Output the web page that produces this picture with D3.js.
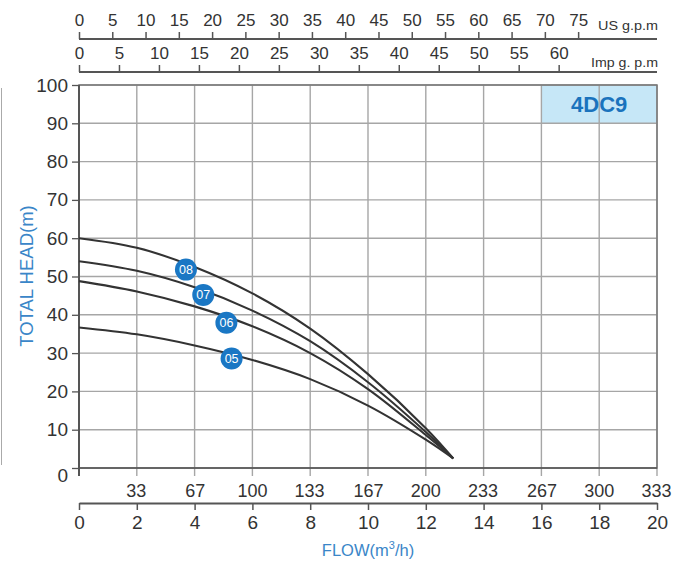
<!DOCTYPE html>
<html><head><meta charset="utf-8">
<script src="https://cdn.jsdelivr.net/npm/d3@7"></script>
<style>html,body{margin:0;padding:0;background:#fff}svg{display:block;font-family:"Liberation Sans",Arial,sans-serif}</style>
</head><body><svg id="c" width="674" height="564"></svg>
<script>
const headTicks = [0,10,20,30,40,50,60,70,80,90,100];
const flowTicks = [0,2,4,6,8,10,12,14,16,18,20];
const lpmTicks = [33,67,100,133,167,200,233,267,300,333];
const usTicks = [0,5,10,15,20,25,30,35,40,45,50,55,60,65,70,75];
const impTicks = [0,5,10,15,20,25,30,35,40,45,50,55,60];
const flows = [0,2,4,6,8,10,12,12.95];
const series = [
  {name:"08", head:[60,57.5,52.5,45.6,36.4,24.5,10.4,2.5], label:[3.7,51.8]},
  {name:"07", head:[54,51.5,47.2,41.1,33.1,22.4,9.4,2.5], label:[4.3,45.2]},
  {name:"06", head:[48.8,46.1,42.2,37.0,30.0,20.6,8.6,2.5], label:[5.1,37.9]},
  {name:"05", head:[36.7,34.9,32.0,28.2,23.2,16.3,7.4,2.5], label:[5.28,28.6]}
];
const model = "4DC9";

const svg = d3.select("#c");
const L=79,R=657,T=85,B=468;
const x = d3.scaleLinear([0,20],[L,R]);
const y = d3.scaleLinear([0,100],[B,T]);
const xl = d3.scaleLinear([0,333.333],[L,R]);
const xus = d3.scaleLinear([0,86.85],[L,R]);
const ximp = d3.scaleLinear([0,72.3],[L,R]);
const FF = "Liberation Sans, Arial, sans-serif";

// stray left line
svg.append("line").attr("x1",1.5).attr("x2",1.5).attr("y1",88).attr("y2",465).attr("stroke","#aaa").attr("stroke-width",1);

// model box
svg.append("rect").attr("x",x(16)).attr("y",y(100)).attr("width",x(20)-x(16)).attr("height",y(90)-y(100)).attr("fill","#c6e7f7");

// grid
const g = svg.append("g");
g.selectAll(".vg").data(flowTicks.slice(1)).join("line")
  .attr("x1",d=>x(d)).attr("x2",d=>x(d)).attr("y1",T).attr("y2",B+8)
  .attr("stroke","#a6a6a6").attr("stroke-width",1.4);
g.selectAll(".hg").data(headTicks.slice(1)).join("line")
  .attr("x1",L).attr("x2",R).attr("y1",d=>y(d)).attr("y2",d=>y(d))
  .attr("stroke","#a6a6a6").attr("stroke-width",1.4);
// frame
svg.append("rect").attr("x",L).attr("y",T).attr("width",R-L).attr("height",B-T).attr("fill","none").attr("stroke","#777").attr("stroke-width",1.5);
svg.append("line").attr("x1",L).attr("x2",L).attr("y1",T).attr("y2",B+8).attr("stroke","#555").attr("stroke-width",2);
svg.append("line").attr("x1",L).attr("x2",R).attr("y1",B).attr("y2",B).attr("stroke","#555").attr("stroke-width",1.6);

// y axis
const ya = svg.append("g").attr("transform",`translate(${L},0)`)
  .call(d3.axisLeft(y).tickValues(headTicks).tickSize(7).tickPadding(4));
ya.select(".domain").remove();
ya.selectAll("line").attr("stroke","#555").attr("stroke-width",1.3);
ya.selectAll("text").attr("font-size",19).attr("fill","#333").attr("font-family",FF);
ya.selectAll(".tick").filter(d=>d===0).select("text").attr("dy","0.7em");

// L/min labels
svg.selectAll(".lpm").data(lpmTicks).join("text")
  .attr("x",d=>xl(d)).attr("y",497).attr("text-anchor","middle")
  .attr("font-size",18).attr("fill","#333").text(d=>d);

// flow axis
const fa = svg.append("g").attr("transform","translate(0,503)")
  .call(d3.axisBottom(x).tickValues(flowTicks).tickSize(7).tickPadding(6).tickSizeOuter(0));
fa.select(".domain").attr("stroke","#555").attr("stroke-width",2);
fa.selectAll("line").attr("stroke","#555").attr("stroke-width",1.5);
fa.selectAll("text").attr("font-size",19).attr("fill","#333").attr("font-family",FF);

svg.append("text").attr("x",368).attr("y",556).attr("text-anchor","middle").attr("font-size",16.5).attr("fill","#3a86c8")
  .html('FLOW(m<tspan dy="-7" font-size="11">3</tspan><tspan dy="7">/h)</tspan>');
svg.append("text").attr("transform","translate(33,276) rotate(-90)").attr("text-anchor","middle")
  .attr("font-size",18.5).attr("fill","#3a86c8").text("TOTAL HEAD(m)");

// top US axis
const ua = svg.append("g").attr("transform","translate(0,39)")
  .call(d3.axisTop(xus).tickValues(usTicks).tickSize(7).tickPadding(6).tickSizeOuter(0));
ua.select(".domain").attr("d",`M${L},0H${R}`).attr("stroke","#555").attr("stroke-width",2);
ua.selectAll("line").attr("stroke","#555").attr("stroke-width",1.5);
ua.selectAll("text").attr("font-size",17).attr("fill","#333").attr("font-family",FF);
svg.append("text").attr("x",658).attr("y",30).attr("text-anchor","end").attr("font-size",13.5).attr("fill","#333").attr("textLength",60).attr("lengthAdjust","spacingAndGlyphs").text("US g.p.m");

// top Imp axis
const ia = svg.append("g").attr("transform","translate(0,72)")
  .call(d3.axisTop(ximp).tickValues(impTicks).tickSize(7).tickPadding(6).tickSizeOuter(0));
ia.select(".domain").attr("d",`M${L},0H${R}`).attr("stroke","#555").attr("stroke-width",2);
ia.selectAll("line").attr("stroke","#555").attr("stroke-width",1.5);
ia.selectAll("text").attr("font-size",17).attr("fill","#333").attr("font-family",FF);
svg.append("text").attr("x",658).attr("y",67).attr("text-anchor","end").attr("font-size",13.5).attr("fill","#333").attr("textLength",67).attr("lengthAdjust","spacingAndGlyphs").text("Imp g. p.m");

// model text
svg.append("text").attr("x",(x(16)+x(20))/2).attr("y",(y(100)+y(90))/2+8).attr("text-anchor","middle")
  .attr("font-size",22).attr("font-weight","bold").attr("fill","#1a73bd").text(model);

// curves
const line = d3.line().x(d=>x(d[0])).y(d=>y(d[1])).curve(d3.curveCatmullRom.alpha(0.5));
svg.selectAll(".curve").data(series).join("path")
  .attr("d",s=>line(flows.map((f,i)=>[f,s.head[i]])))
  .attr("fill","none").attr("stroke","#333").attr("stroke-width",2.1);

// labels
const lab = svg.selectAll(".lab").data(series).join("g")
  .attr("transform",s=>`translate(${x(s.label[0])},${y(s.label[1])})`);
lab.append("circle").attr("r",11).attr("fill","#1a77c4");
lab.append("text").attr("text-anchor","middle").attr("dy","0.36em").attr("font-size",12.5).attr("fill","#fff").text(s=>s.name);
</script></body></html>
